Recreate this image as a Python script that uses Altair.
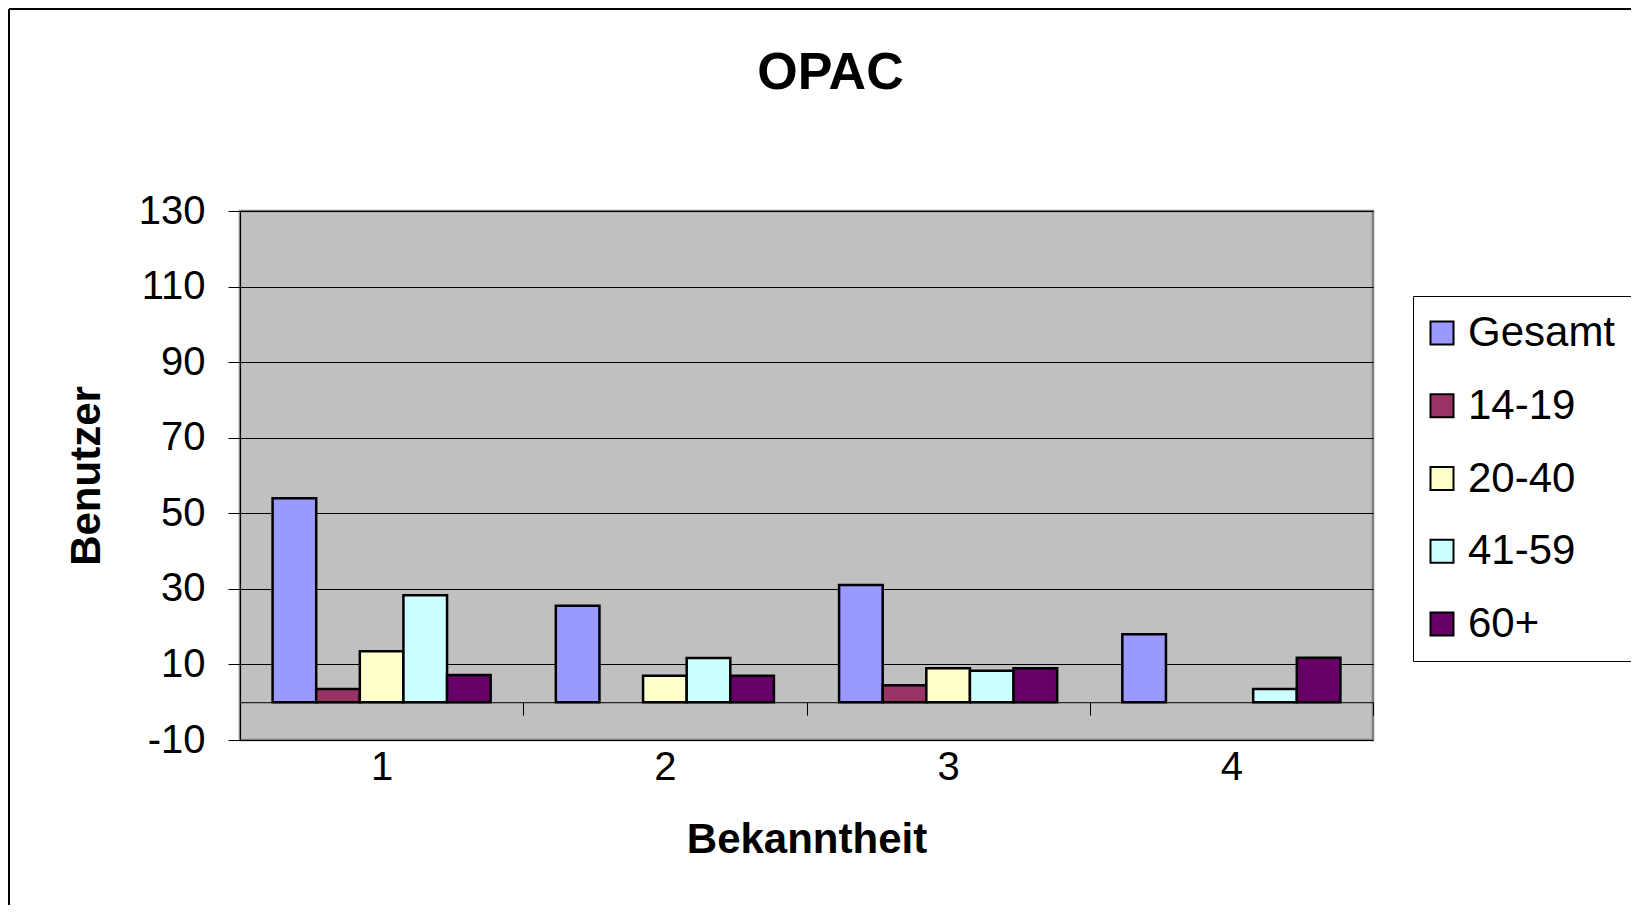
import altair as alt
import pandas as pd

categories = ["1", "2", "3", "4"]
series = ["Gesamt", "14-19", "20-40", "41-59", "60+"]
gesamt = [54, 25.5, 31, 18]
age_14_19 = [3.5, 0, 4.5, 0]
age_20_40 = [13.5, 7, 9, 0]
age_41_59 = [28.3, 11.7, 8.3, 3.5]
age_60_plus = [7.2, 7, 9, 11.8]
colors = ["#9999FF", "#993366", "#FFFFCC", "#CCFFFF", "#660066"]
y_ticks = [-10, 10, 30, 50, 70, 90, 110, 130]

rows = []
for s, vals in zip(series, [gesamt, age_14_19, age_20_40, age_41_59, age_60_plus]):
    for c, v in zip(categories, vals):
        if v > 0:
            rows.append({"Bekanntheit": c, "Gruppe": s, "Benutzer": v})
df = pd.DataFrame(rows)

W, H = 1133, 529
FONT = "Liberation Sans"

bars = alt.Chart(df).mark_bar(stroke="black", strokeWidth=2.5).encode(
    x=alt.X(
        "Bekanntheit:N",
        sort=categories,
        scale=alt.Scale(domain=categories, paddingInner=0, paddingOuter=0),
        axis=alt.Axis(
            title="Bekanntheit", labelAngle=0, offset=-H * 10 / 140,
            tickBand="extent", tickSize=13, tickColor="black", tickWidth=1,
            domainColor="black", domainWidth=1, grid=False,
            labelFontSize=40, labelFont=FONT, labelColor="black", labelPadding=32,
            titleFontSize=42, titleFont=FONT, titleFontWeight="bold",
            titleColor="black", titlePadding=32,
        ),
    ),
    xOffset=alt.XOffset(
        "Gruppe:N", sort=series,
        scale=alt.Scale(domain=series, paddingInner=0, paddingOuter=0.747),
    ),
    y=alt.Y(
        "Benutzer:Q",
        stack=None,
        scale=alt.Scale(domain=[-10, 130], nice=False),
        axis=alt.Axis(
            values=y_ticks, title="Benutzer", grid=True, gridColor="black",
            gridWidth=1, tickColor="black", tickSize=12, tickWidth=1,
            domainColor="black", domainWidth=1,
            labelExpr="'' + datum.value",
            labelFontSize=40, labelFont=FONT, labelColor="black", labelPadding=23,
            titleFontSize=42, titleFont=FONT, titleFontWeight="bold",
            titleColor="black", titlePadding=30,
        ),
    ),
    color=alt.Color(
        "Gruppe:N",
        sort=series,
        scale=alt.Scale(domain=series, range=colors),
        legend=alt.Legend(
            title=None, orient="none", legendX=1173, legendY=85,
            direction="vertical", symbolType="square", symbolSize=529,
            symbolStrokeColor="black", symbolStrokeWidth=2, symbolOpacity=1,
            labelFontSize=42, labelFont=FONT, labelColor="black",
            rowPadding=30.75, padding=16, strokeColor="black", fillColor="white",
            symbolOffset=-8, labelOffset=5, labelLimit=400,
        ),
    ),
)

frame_top = alt.Chart(df).mark_rule(color="black", strokeWidth=1.5).encode(
    x=alt.value(-231), x2=alt.value(W + 300), y=alt.value(-202)
)
frame_left = alt.Chart(df).mark_rule(color="black", strokeWidth=1.5).encode(
    x=alt.value(-231), y=alt.value(-202), y2=alt.value(H + 300)
)

chart = alt.layer(bars, frame_top, frame_left).properties(
    width=W,
    height=H,
    autosize=alt.AutoSizeParams(type="none"),
    padding={"left": 232, "top": 203, "right": 258, "bottom": 165},
    title=alt.TitleParams(
        "OPAC", fontSize=52, fontWeight="bold", font=FONT, color="black",
        frame="group", anchor="middle", dx=24, offset=0, dy=133,
        baseline="alphabetic",
    ),
).configure_view(
    fill="#C0C0C0", stroke="#808080", strokeWidth=2.5
)

chart.save("out.html", embed_options={"renderer": "svg", "actions": False})
